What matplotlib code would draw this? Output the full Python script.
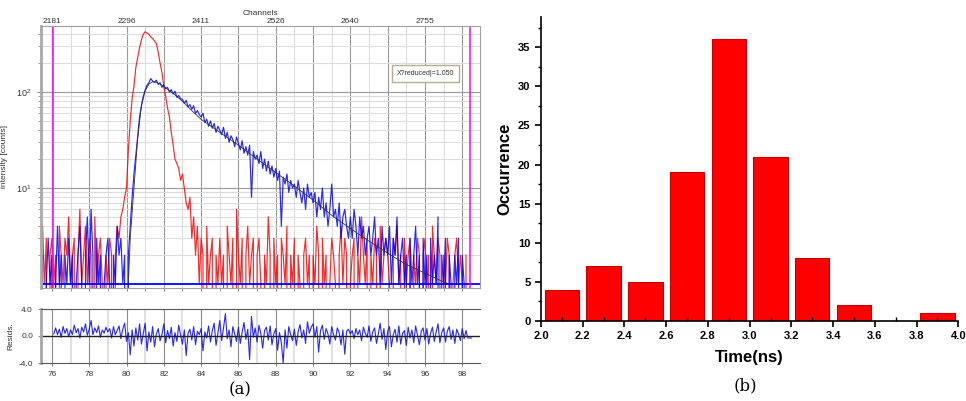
import numpy as np
import matplotlib.pyplot as plt
from matplotlib.ticker import MultipleLocator, LogLocator, NullFormatter

plt.rcParams['font.family'] = ['Liberation Sans', 'DejaVu Sans']

# ---- (a) fluorescence decay, sampled every 0.1 ns ----
t_start = 75.4
dt = 0.1
irf_counts = [2, 4, 1, 3, 0, 2,
              3, 1, 2, 0, 4, 2, 1, 3, 2, 5,
              1, 2, 3, 0, 2, 6, 1, 2, 4, 1,
              3, 2, 0, 5, 1, 2, 3, 1, 0, 2,
              1, 3, 2, 0, 2, 4, 3, 5, 6, 8,
              10, 25, 50, 85, 115, 180, 230, 290, 350, 400,
              425, 410, 400, 375, 360, 340, 320, 260, 200, 160,
              115, 90, 68, 55, 38, 28, 20, 18, 16, 12,
              14, 10, 7, 6, 8, 3, 5, 2, 4, 1,
              3, 2, 0, 4, 1, 2, 3, 0, 2, 1,
              3, 1, 2, 0, 4, 2, 1, 3, 0, 6,
              2, 1, 3, 0, 2, 4, 1, 2, 3, 0,
              2, 3, 1, 0, 2, 1, 5, 2, 0, 3,
              1, 2, 0, 3, 2, 1, 4, 0, 2, 1,
              3, 0, 2, 1, 0, 2, 3, 1, 2, 0,
              2, 1, 4, 2, 0, 3, 1, 2, 0, 1,
              3, 2, 1, 0, 2, 4, 1, 3, 2, 0,
              1, 2, 3, 0, 2, 1, 5, 2, 1, 3,
              0, 2, 1, 3, 2, 0, 4, 1, 2, 3,
              2, 1, 0, 3, 2, 4, 1, 2, 0, 3,
              1, 2, 3, 0, 2, 1, 3, 2, 0, 2,
              3, 1, 2, 0, 4, 2, 1, 3, 2, 0,
              2, 1, 3, 2, 0, 1, 2, 3, 1, 2,
              1, 0, 2]
decay_counts = [1, 2, 0, 1, 3, 1,
                2, 0, 1, 4, 1, 2, 0, 2, 1, 3,
                1, 2, 0, 1, 2, 4, 1, 0, 2, 5,
                1, 6, 2, 0, 3, 1, 2, 0, 1, 2,
                3, 1, 0, 2, 1, 4, 2, 3, 1, 2,
                0, 2, 4, 8, 14, 22, 35, 55, 72, 90,
                105, 118, 125, 138, 130, 126, 133, 120, 125, 112,
                118, 108, 112, 100, 106, 95, 102, 88, 92, 85,
                84, 76, 82, 70, 74, 66, 72, 60, 64, 58,
                55, 60, 48, 52, 44, 50, 42, 47, 38, 44,
                40, 36, 43, 33, 38, 30, 35, 32, 27, 34,
                29, 25, 31, 23, 27, 22, 28, 8, 24, 20,
                22, 18, 24, 16, 20, 15, 19, 14, 17, 13,
                16, 12, 15, 4, 13, 11, 14, 9, 12, 10,
                11, 8, 12, 9, 7, 10, 6, 11, 8, 9,
                7, 9, 5, 8, 6, 10, 5, 7, 4, 6,
                11, 5, 6, 4, 7, 3, 5, 6, 4, 3,
                5, 3, 6, 4, 2, 5, 3, 4, 2, 3,
                4, 2, 3, 5, 2, 3, 1, 4, 2, 3,
                2, 4, 1, 3, 2, 5, 1, 2, 3, 1,
                2, 0, 3, 1, 2, 4, 1, 2, 0, 3,
                1, 2, 0, 3, 1, 2, 1, 5, 0, 2,
                1, 3, 0, 2, 1, 0, 2, 1, 3, 0,
                2, 1, 0]
fit_time = [80.1, 80.2, 80.4, 80.6, 80.8, 81.0, 81.2, 81.4, 81.6, 81.8, 82.0,
            82.5, 83.0, 83.5, 84.0, 85.0, 86.0, 87.0, 88.0, 89.0, 90.0,
            91.0, 92.0, 93.0, 94.0, 95.0, 96.0, 97.0, 97.3]
fit_counts = [1.0, 3.0, 10, 33, 72, 103, 121, 128, 126, 121, 114,
              97, 80, 64, 52, 38, 28, 20, 14.5, 10.5, 7.5,
              5.2, 3.8, 2.8, 2.1, 1.6, 1.3, 1.05, 1.0]

res_start = 76.1
residuals = [0.3, 1.2, 0.2, 1.0, -0.2, 1.4, 0.4, 1.1, -0.1,
             0.9, 0.2, 1.6, 0.5, 1.1, -0.3, 1.3, 0.6, 1.8, 0.1,
             1.0, 2.3, 0.2, 1.2, 0.5, 1.5, -0.2, 0.9, 0.4, 1.3,
             0.6, 1.1, -0.3, 1.4, 0.2, 0.8, 1.5, -0.4, 1.0, 1.9,
             -0.8, 0.5, -2.8, 0.9, -1.5, 1.2, -0.6, 1.8, -1.2, 0.4,
             1.9, -2.2, 0.6, -0.9, 1.4, -1.6, 0.3, 1.1, -0.7, 0.2,
             1.8, -1.0, 0.8, -0.4, 1.3, -1.5, 0.5, -0.8, 1.6, 0.1,
             -1.2, 0.9, -2.9, 0.4, 1.0, -0.6, 1.4, -1.3, 0.7, 0.2,
             1.1, -2.2, 0.6, -0.3, 1.5, -0.9, 0.8, 1.9, -1.4, 0.5,
             2.3, -0.7, 1.2, 3.3, -0.4, 0.9, -1.6, 1.4, 0.3, -0.8,
             1.3, -1.1, 0.6, 2.0, -0.5, 1.0, -3.5, 2.9, -0.2, 1.2,
             -0.9, 1.6, 0.4, -1.8, 0.8, 1.3, -0.6, 1.5, -1.3, 0.3,
             1.1, -2.1, 0.5, -1.0, -4.0, 0.9, -1.8, 1.4, 0.2, -0.7,
             1.0, -1.4, 0.6, 1.7, -0.3, 0.9, -1.1, 2.1, 0.4, 1.3,
             1.8, -0.2, 1.4, -2.4, 0.8, 1.6, -0.5, 1.1, 0.3, -1.2,
             1.4, 0.2, -0.6, 1.2, 0.5, -1.3, 0.9, -2.7, 0.7, 1.0,
             0.3, 0.8, -0.4, 1.1, 0.2, 0.9, -0.7, 1.3, 0.4, -0.2,
             1.5, -0.8, 0.6, 1.2, -1.1, 0.3, 1.9, -0.5, 1.1, -2.0,
             0.7, 1.4, -1.6, 0.2, 1.0, -0.9, 1.5, -1.2, 0.4, 0.8,
             -1.4, 1.3, -0.3, 0.9, -1.0, 1.5, 0.1, -1.3, 0.7, 1.2,
             -0.6, 1.1, -1.2, 0.4, 1.3, -0.8, 0.6, 1.8, -1.0, 0.5,
             1.2, -0.9, 0.7, 1.4, -0.5, 0.9, -1.1, 1.0, 0.3, -0.7,
             1.1, -0.4, 0.8, -0.3, -0.3, -0.3]

channel_time = [76, 80, 84, 88, 92, 96]
channel_labels = ['2181', '2296', '2411', '2526', '2640', '2755']
marker_time = [76.05, 98.42]

# ---- (b) lifetime histogram ----
bin_centers = [2.1, 2.3, 2.5, 2.7, 2.9, 3.1, 3.3, 3.5, 3.7, 3.9]
occurrence = [4, 7, 5, 19, 36, 21, 8, 2, 0, 1]

t = t_start + dt * np.arange(len(irf_counts))
tr = res_start + dt * np.arange(len(residuals))

fig = plt.figure(figsize=(9.66, 4.01), dpi=100)
W, H = 966, 401

ax = fig.add_axes([40.7 / W, 1 - 288 / H, (480 - 40.7) / W, (288 - 26) / H])
ax.set_yscale('log', nonpositive='clip')
ax.set_xlim(75.4, 98.95)
ax.set_ylim(0.91, 487)

ax.xaxis.set_major_locator(MultipleLocator(2))
ax.xaxis.set_minor_locator(MultipleLocator(1))
ax.set_yticks([10, 100])
ax.yaxis.set_minor_locator(LogLocator(base=10, subs=np.arange(2, 10)))
ax.yaxis.set_minor_formatter(NullFormatter())
ax.grid(which='major', color='#9a9a9a', lw=0.8)
ax.grid(which='minor', color='#dcdcdc', lw=0.8)
ax.set_axisbelow(True)
ax.tick_params(axis='x', labelbottom=False, length=2, color='#888888')
ax.tick_params(axis='y', labelsize=6.5, labelcolor='#333333', length=3,
               color='#888888')
ax.tick_params(which='minor', length=2, color='#888888')
ax.set_ylabel('intensity [counts]', fontsize=6, color='#333333', labelpad=6)
for side in ['top', 'right', 'bottom']:
    ax.spines[side].set_color('#a0a0a0')
ax.spines['left'].set_color('#a8a8a8')
ax.spines['left'].set_linewidth(2)

ax.plot(t, irf_counts, color='#ff0000', lw=0.85, alpha=0.85)
ax.plot(t, decay_counts, color='#0000ff', lw=0.85, alpha=0.85)
ax.plot(fit_time, fit_counts, color='#333333', lw=0.6)
ax.axhline(1, color='#0000ff', lw=1.3)
for m in marker_time:
    ax.axvline(m, color='#ff00ff', lw=1.1)

top = ax.secondary_xaxis('top')
top.set_xticks(channel_time, labels=channel_labels)
top.tick_params(labelsize=6, labelcolor='#333333', length=0, pad=1)
top.set_xlabel('Channels', fontsize=6, color='#333333', labelpad=2)
top.spines['top'].set_visible(False)

fig.text(425.5 / W, 1 - 73.5 / H, 'X?reduced|=1.050', ha='center', va='center',
         fontsize=5, color='#333333',
         bbox=dict(boxstyle='square,pad=0.75', fc='white', ec='#b5ae96', lw=1))

rax = fig.add_axes([40.7 / W, 1 - 363 / H, (480 - 40.7) / W, 54 / H])
rax.set_xlim(75.4, 98.95)
rax.set_ylim(-4, 4)
rax.set_yticks([4, 0, -4], labels=['4.0', '0.0', '-4.0'])
rax.xaxis.set_major_locator(MultipleLocator(2))
rax.xaxis.set_minor_locator(MultipleLocator(1))
rax.grid(which='major', axis='x', color='#8a8a8a', lw=0.8)
rax.grid(which='minor', axis='x', color='#dcdcdc', lw=1.2)
rax.set_axisbelow(True)
rax.tick_params(labelsize=6, labelcolor='#333333', length=2, color='#888888')
rax.tick_params(which='minor', length=0)
rax.set_ylabel('Resids.', fontsize=6, color='#333333', labelpad=3)
rax.spines['top'].set_color('#555555')
rax.spines['bottom'].set_color('#555555')
rax.spines['right'].set_visible(False)
rax.spines['left'].set_color('#a8a8a8')
rax.spines['left'].set_linewidth(2)
rax.plot(tr, residuals, color='#0000ff', lw=0.8, alpha=0.85)
rax.axhline(0, color='#222222', lw=1)

fig.text(240 / W, 1 - 390 / H, '(a)', ha='center', va='center',
         fontsize=12, family='DejaVu Serif')

# ---- (b) ----
bx = fig.add_axes([541 / W, 1 - 321 / H, (958.3 - 541) / W, (321 - 16.7) / H])
bx.bar(bin_centers, occurrence, width=0.165, color='#ff0000',
       edgecolor='#c80000', lw=0.8)
bx.set_xlim(2.0, 4.0)
bx.set_ylim(0, 38.9)
bx.xaxis.set_minor_locator(MultipleLocator(0.1))
bx.yaxis.set_major_locator(MultipleLocator(5))
bx.yaxis.set_minor_locator(MultipleLocator(2.5))
xt = np.arange(2.0, 4.01, 0.2)
bx.set_xticks(xt, labels=[f'{v:.1f}' for v in xt])
bx.tick_params(axis='x', which='major', direction='out', length=4, width=1.2,
               labelsize=8)
bx.tick_params(axis='x', which='minor', direction='in', length=3, width=1)
bx.tick_params(axis='y', which='major', direction='out', length=4, width=1.2,
               labelsize=8)
bx.tick_params(axis='y', which='minor', direction='out', length=2.5, width=1)
for lab in bx.get_xticklabels() + bx.get_yticklabels():
    lab.set_fontweight('bold')
bx.spines['top'].set_visible(False)
bx.spines['right'].set_visible(False)
bx.spines['left'].set_linewidth(1.2)
bx.spines['bottom'].set_linewidth(1.2)
bx.set_xlabel('Time(ns)', fontsize=12, fontweight='bold', labelpad=6)
bx.set_ylabel('Occurrence', fontsize=12, fontweight='bold', labelpad=4)

fig.text(745 / W, 1 - 386 / H, '(b)', ha='center', va='center',
         fontsize=12, family='DejaVu Serif')

fig.savefig('out.png', dpi=100)
